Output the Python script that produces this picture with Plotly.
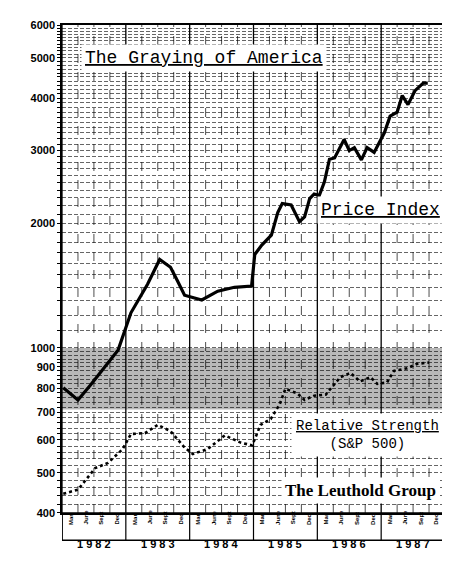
import math
import plotly.graph_objects as go

# decimal year, value
price_x = [1982.02, 1982.25, 1982.45, 1982.72, 1982.88, 1983.08, 1983.34, 1983.53,
           1983.70, 1983.81, 1983.92, 1984.19, 1984.44, 1984.70, 1984.97, 1985.02,
           1985.13, 1985.28, 1985.38, 1985.45, 1985.59, 1985.72, 1985.80, 1985.88,
           1985.95, 1986.03, 1986.11, 1986.19, 1986.27, 1986.42, 1986.50, 1986.58,
           1986.69, 1986.78, 1986.89, 1987.05, 1987.14, 1987.25, 1987.33, 1987.42,
           1987.53, 1987.66, 1987.73]
price_y = [801, 749, 815, 922, 989, 1215, 1424, 1634, 1565, 1450, 1340, 1305, 1370,
           1400, 1410, 1680, 1770, 1870, 2120, 2230, 2210, 2015, 2070, 2290, 2350,
           2330, 2510, 2850, 2870, 3180, 2990, 3040, 2840, 3040, 2960, 3300, 3620,
           3700, 4060, 3860, 4170, 4350, 4350]

rs_x = [1982.02, 1982.25, 1982.52, 1982.72, 1982.95, 1983.08, 1983.30, 1983.50,
        1983.70, 1983.92, 1984.05, 1984.28, 1984.55, 1984.80, 1984.98, 1985.11,
        1985.27, 1985.41, 1985.50, 1985.69, 1985.80, 1985.95, 1986.13, 1986.27,
        1986.36, 1986.52, 1986.67, 1986.83, 1986.94, 1987.09, 1987.20, 1987.41,
        1987.56, 1987.75]
rs_y = [445, 455, 513, 528, 570, 620, 623, 652, 630, 575, 555, 570, 615, 591, 582,
        652, 674, 731, 797, 776, 749, 767, 771, 819, 850, 870, 830, 850, 819, 825,
        880, 893, 915, 922]

years = [1982, 1983, 1984, 1985, 1986, 1987]
months = ["Mar", "June", "Sept", "Dec"]
label_vals = [400, 500, 600, 700, 800, 900, 1000, 2000, 3000, 4000, 5000, 6000]

grid_vals = list(range(400, 1000, 20)) + list(range(1000, 6001, 100))
grid_text = ["<b>%d</b>" % v if v in label_vals else "" for v in grid_vals]

lg = math.log10

fig = go.Figure()
fig.add_trace(go.Scatter(x=price_x, y=price_y, mode="lines",
                         line=dict(color="black", width=3.2)))
fig.add_trace(go.Scatter(x=rs_x, y=rs_y, mode="lines",
                         line=dict(color="black", width=2.6, dash="dot")))

# shaded band
fig.add_shape(type="rect", x0=1982, x1=1988, y0=710, y1=1000, xref="x", yref="y",
              fillcolor="rgba(0,0,0,0.28)", line_width=0, layer="below")

# quarter verticals
for yr in years:
    for q in range(4):
        fig.add_shape(type="line", x0=yr + q / 4, x1=yr + q / 4, y0=0, y1=1,
                      xref="x", yref="paper", layer="below",
                      line=dict(color="black", width=1.3 if q == 0 else 0.7,
                                dash="solid" if q == 0 else "dash"))

# month strip
fig.add_shape(type="rect", x0=1982, x1=1988, y0=-0.056, y1=0, xref="x", yref="paper",
              line=dict(color="black", width=1.5))
for yr in years:
    fig.add_shape(type="line", x0=yr, x1=yr, y0=-0.056, y1=0, xref="x", yref="paper",
                  line=dict(color="black", width=1.2))
    for i, m in enumerate(months):
        fig.add_annotation(x=yr + 0.14 + i * 0.24, y=-0.028, xref="x", yref="paper",
                           text="<b>" + m + "</b>", textangle=-90, showarrow=False,
                           font=dict(size=6, family="Liberation Sans", color="black"))
    fig.add_annotation(x=yr + 0.5, y=-0.08, xref="x", yref="paper",
                       text="<b>" + " ".join(str(yr)) + "</b>", showarrow=False,
                       font=dict(size=11, family="Liberation Sans", color="black"))

mono = dict(family="Liberation Mono", size=18, color="black")
fig.add_annotation(x=1982.3, y=lg(5000), xref="x", yref="y", xanchor="left",
                   text="<u>The Graying of America</u>", showarrow=False,
                   bgcolor="white", font=mono, borderpad=3)
fig.add_annotation(x=1987.98, y=lg(2150), xref="x", yref="y", xanchor="right",
                   text="<u>Price Index</u>", showarrow=False,
                   bgcolor="white", font=mono, borderpad=3)
fig.add_annotation(x=1987.98, y=lg(617), xref="x", yref="y", xanchor="right",
                   text="<u>Relative Strength</u><br>(S&P 500)", showarrow=False,
                   bgcolor="white", font=dict(family="Liberation Mono", size=14, color="black"),
                   borderpad=4)
fig.add_annotation(x=1987.92, y=lg(452), xref="x", yref="y", xanchor="right",
                   text="<b>The Leuthold Group</b>", showarrow=False,
                   bgcolor="white", font=dict(family="Liberation Serif", size=17, color="black"),
                   borderpad=3)

fig.update_layout(
    width=450, height=561, showlegend=False,
    margin=dict(l=54, r=13, t=17, b=56),
    paper_bgcolor="white", plot_bgcolor="white",
    xaxis=dict(range=[1982, 1988], showgrid=False, showticklabels=False,
               zeroline=False, showline=True, linecolor="black", linewidth=1.5,
               mirror=True),
    yaxis=dict(type="log", range=[2.6019, 3.7785], tickvals=grid_vals, ticktext=grid_text,
               showgrid=True, gridcolor="rgba(0,0,0,0.6)", gridwidth=0.7,
               griddash="4px,2px", ticks="outside", ticklen=3, tickcolor="black",
               tickfont=dict(family="Liberation Sans", size=11, color="black"),
               showline=True, linecolor="black", linewidth=1.5, mirror=True),
)

fig.write_html("out.html")
